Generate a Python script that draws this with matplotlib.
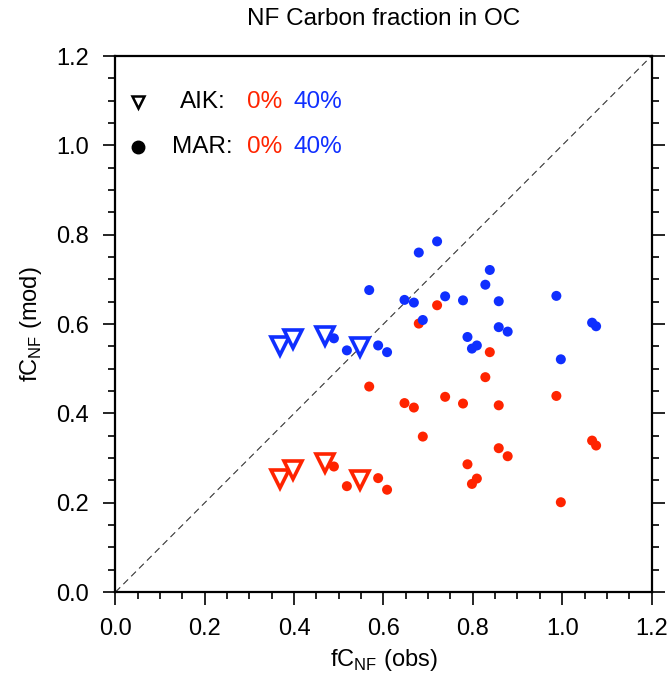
import numpy as np
import matplotlib
matplotlib.use('Agg')
import matplotlib.pyplot as plt

plt.rcParams['font.family'] = ['Liberation Sans', 'DejaVu Sans']

# MAR sites: observed NF carbon fraction and model results (0% / 40%)
mar_obs = [0.72, 0.679, 0.568, 0.647, 0.668, 0.738, 0.688, 0.489, 0.518, 0.588,
           0.608, 0.838, 0.828, 0.778, 0.858, 0.987, 1.067, 1.076, 0.858, 0.878,
           0.788, 0.809, 0.798, 0.997]
mar_mod0 = [0.642, 0.601, 0.460, 0.423, 0.413, 0.437, 0.348, 0.281, 0.237, 0.255,
            0.229, 0.537, 0.481, 0.422, 0.418, 0.439, 0.339, 0.328, 0.322, 0.304,
            0.286, 0.254, 0.242, 0.201]
mar_mod40 = [0.785, 0.760, 0.676, 0.654, 0.648, 0.662, 0.609, 0.568, 0.541, 0.552,
             0.537, 0.721, 0.688, 0.653, 0.651, 0.663, 0.603, 0.595, 0.593, 0.583,
             0.571, 0.552, 0.545, 0.521]

# AIK sites
aik_obs = [0.369, 0.398, 0.469, 0.547]
aik_mod0 = [0.252, 0.273, 0.288, 0.251]
aik_mod40 = [0.551, 0.566, 0.573, 0.549]

red = '#ff2400'
blue = '#0f2fff'

fig = plt.figure(figsize=(6.68, 6.79), dpi=100)
ax = fig.add_axes([0.1729, 0.1281, 0.8024, 0.7894])

ax.plot([0, 1.2], [0, 1.2], color='#333333', lw=0.8, ls=(0, (6, 4)), zorder=1)

ax.scatter(mar_obs, mar_mod0, s=52, color=red, edgecolors='none', zorder=3)
ax.scatter(mar_obs, mar_mod40, s=52, color=blue, edgecolors='none', zorder=3)
ax.plot(aik_obs, aik_mod0, 'v', ls='none', ms=12.5, mfc='white', mec=red, mew=2.6, zorder=4)
ax.plot(aik_obs, aik_mod40, 'v', ls='none', ms=12.5, mfc='white', mec=blue, mew=2.6, zorder=4)

ax.set_xlim(0, 1.2)
ax.set_ylim(0, 1.2)
ticks = np.arange(0, 1.21, 0.2)
ax.set_xticks(ticks)
ax.set_yticks(ticks)
ax.set_xticks(np.arange(0, 1.21, 0.05), minor=True)
ax.set_yticks(np.arange(0, 1.21, 0.05), minor=True)
ax.set_xticklabels(['%.1f' % t for t in ticks])
ax.set_yticklabels(['%.1f' % t for t in ticks])
ax.tick_params(which='both', direction='out', top=False, right=True, labelsize=17, width=1.2)
ax.tick_params(which='major', length=9, pad=10)
ax.tick_params(which='minor', length=5)
for sp in ax.spines.values():
    sp.set_linewidth(1.6)

ax.set_xlabel('fC$_{\\mathregular{NF}}$ (obs)', fontsize=17, labelpad=5)
ax.set_ylabel('fC$_{\\mathregular{NF}}$ (mod)', fontsize=17, labelpad=9)
ax.set_title('NF Carbon fraction in OC', fontsize=17.5, pad=22)

# legend drawn by hand
ax.plot([0.0425], [0.9147], 'v', transform=ax.transAxes, ms=8, mfc='white', mec='black', mew=1.8, clip_on=False)
ax.plot([0.0414], [0.8308], 'o', transform=ax.transAxes, ms=9, color='black', clip_on=False)
ax.text(0.1203, 0.9147, 'AIK:', transform=ax.transAxes, fontsize=17.5, va='center')
ax.text(0.1049, 0.8308, 'MAR:', transform=ax.transAxes, fontsize=17.5, va='center')
for yy in [0.9147, 0.8308]:
    ax.text(0.2448, yy, '0%', transform=ax.transAxes, fontsize=17.5, va='center', color=red)
    ax.text(0.3312, yy, '40%', transform=ax.transAxes, fontsize=17.5, va='center', color=blue)

fig.savefig('out.png', dpi=100)
